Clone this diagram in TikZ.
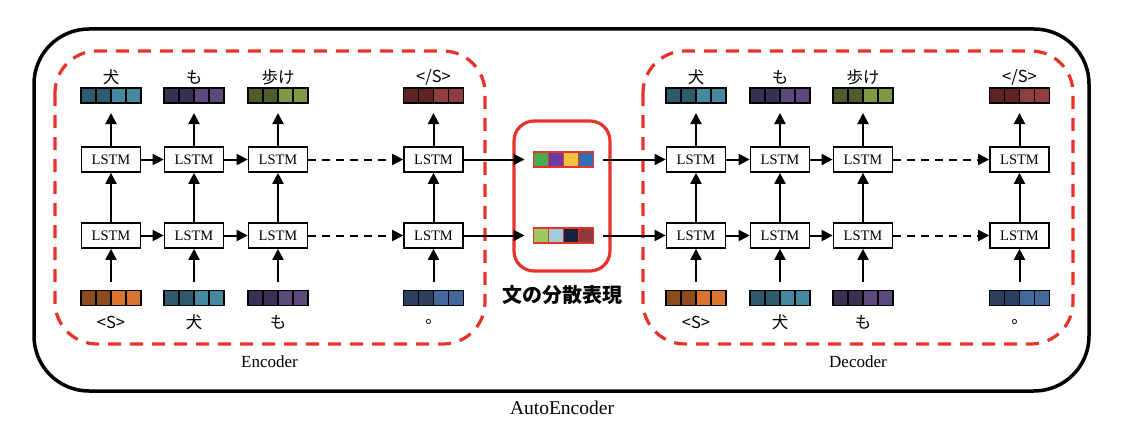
\documentclass[tikz,border=0pt]{standalone}
\usepackage{fontspec}
\setmainfont{Liberation Serif}
\newfontfamily\cjk{Noto Sans CJK JP}
\usetikzlibrary{arrows.meta}

\definecolor{redline}{HTML}{E8332A}
\definecolor{inuD}{HTML}{2E5B6C}
\definecolor{inuL}{HTML}{46889F}
\definecolor{moD}{HTML}{3B2F55}
\definecolor{moL}{HTML}{5C4A7C}
\definecolor{aruD}{HTML}{4D5E2A}
\definecolor{aruL}{HTML}{7F9946}
\definecolor{eosD}{HTML}{5E2424}
\definecolor{eosL}{HTML}{8E3E3E}
\definecolor{bosD}{HTML}{8C4A1F}
\definecolor{bosL}{HTML}{DB7430}
\definecolor{kuD}{HTML}{2C3F60}
\definecolor{kuL}{HTML}{43699C}
\definecolor{cgreen}{HTML}{4BA853}
\definecolor{cpurple}{HTML}{6B3A9E}
\definecolor{cyellow}{HTML}{F6BF3D}
\definecolor{cblue}{HTML}{2F6EB5}
\definecolor{clgreen}{HTML}{9DCA5E}
\definecolor{clblue}{HTML}{9FCCDA}
\definecolor{cnavy}{HTML}{17213E}
\definecolor{cbrown}{HTML}{8C3B3B}

% word vector: name, x, y, four cell colours, border colour
\newcommand{\wordvec}[8]{%
    \node[vec] (#1) at (#2,#3) {};
    \foreach \c [count=\i from 0] in {#4,#5,#6,#7}
        \filldraw[fill=\c, draw=#8, line width=1.5pt]
            ([xshift=\i*15pt]#1.north west) rectangle ++(15,15);
}

\begin{document}
\begin{tikzpicture}
        [x=1pt, y=-1pt,
        lstm/.style={draw, fill=white, line width=1.7pt, minimum width=59pt, minimum height=25pt,
            inner sep=0pt, font=\fontsize{14.5}{16}\selectfont},
        vec/.style={minimum width=60pt, minimum height=15pt, inner sep=0pt, outer sep=0pt},
        tok/.style={font=\cjk\fontsize{16.5}{18}\selectfont, inner sep=0pt},
        arr/.style={line width=2pt, -{Triangle[length=11pt, width=11pt]}},
        dots/.style={dash pattern=on 8pt off 6pt},
        redbox/.style={redline, line width=3.2pt},
        caption/.style={font=\fontsize{17}{19}\selectfont, inner sep=0pt}]

        \useasboundingbox (0,0) rectangle (1122,428);

        % --- Outer box and the three red frames ---
        \draw[line width=3.5pt, rounded corners=55pt] (34,29) rectangle (1089,391);
        \draw[redbox, dash pattern=on 13pt off 9pt, rounded corners=42pt] (55,51) rectangle (485,344);
        \draw[redbox, dash pattern=on 13pt off 9pt, rounded corners=42pt] (643,51) rectangle (1073,344);
        \draw[redbox, rounded corners=20pt] (514,121) rectangle (610,271);

        % --- Encoder ---
        \node[lstm] (eu1) at (111,159.5) {LSTM};
        \node[lstm] (eu2) at (194,159.5) {LSTM};
        \node[lstm] (eu3) at (278,159.5) {LSTM};
        \node[lstm] (eu4) at (433.5,159.5) {LSTM};
        \node[lstm] (el1) at (111,235.5) {LSTM};
        \node[lstm] (el2) at (194,235.5) {LSTM};
        \node[lstm] (el3) at (278,235.5) {LSTM};
        \node[lstm] (el4) at (433.5,235.5) {LSTM};

        \wordvec{eo1}{111}{95.5}{inuD}{inuD}{inuL}{inuL}{black}
        \wordvec{eo2}{194}{95.5}{moD}{moD}{moL}{moL}{black}
        \wordvec{eo3}{278}{95.5}{aruD}{aruD}{aruL}{aruL}{black}
        \wordvec{eo4}{433.5}{95.5}{eosD}{eosD}{eosL}{eosL}{black}
        \wordvec{ei1}{111}{298}{bosD}{bosD}{bosL}{bosL}{black}
        \wordvec{ei2}{194}{298}{inuD}{inuD}{inuL}{inuL}{black}
        \wordvec{ei3}{278}{298}{moD}{moD}{moL}{moL}{black}
        \wordvec{ei4}{433.5}{298}{kuD}{kuD}{kuL}{kuL}{black}

        \node[tok] (eot1) at (111,77) {犬};
        \node[tok] (eot2) at (194,77) {も};
        \node[tok] (eot3) at (278,77) {歩け};
        \node[tok] (eot4) at (433.5,77) {</S>};
        \node[tok] (eit1) at (111,322) {<S>};
        \node[tok] (eit2) at (194,322) {犬};
        \node[tok] (eit3) at (278,322) {も};
        \node[tok] (eit4) at (433.5,322) {。};

        % --- Decoder ---
        \node[lstm] (du1) at (696,159.5) {LSTM};
        \node[lstm] (du2) at (780,159.5) {LSTM};
        \node[lstm] (du3) at (863,159.5) {LSTM};
        \node[lstm] (du4) at (1019.5,159.5) {LSTM};
        \node[lstm] (dl1) at (696,235.5) {LSTM};
        \node[lstm] (dl2) at (780,235.5) {LSTM};
        \node[lstm] (dl3) at (863,235.5) {LSTM};
        \node[lstm] (dl4) at (1019.5,235.5) {LSTM};

        \wordvec{do1}{696}{95.5}{inuD}{inuD}{inuL}{inuL}{black}
        \wordvec{do2}{780}{95.5}{moD}{moD}{moL}{moL}{black}
        \wordvec{do3}{863}{95.5}{aruD}{aruD}{aruL}{aruL}{black}
        \wordvec{do4}{1019.5}{95.5}{eosD}{eosD}{eosL}{eosL}{black}
        \wordvec{di1}{696}{298}{bosD}{bosD}{bosL}{bosL}{black}
        \wordvec{di2}{780}{298}{inuD}{inuD}{inuL}{inuL}{black}
        \wordvec{di3}{863}{298}{moD}{moD}{moL}{moL}{black}
        \wordvec{di4}{1019.5}{298}{kuD}{kuD}{kuL}{kuL}{black}

        \node[tok] (dot1) at (696,77) {犬};
        \node[tok] (dot2) at (780,77) {も};
        \node[tok] (dot3) at (863,77) {歩け};
        \node[tok] (dot4) at (1019.5,77) {</S>};
        \node[tok] (dit1) at (696,322) {<S>};
        \node[tok] (dit2) at (780,322) {犬};
        \node[tok] (dit3) at (863,322) {も};
        \node[tok] (dit4) at (1019.5,322) {。};

        % --- Sentence vectors in the middle ---
        \wordvec{zu}{563.5}{159.5}{cgreen}{cpurple}{cyellow}{cblue}{redline}
        \wordvec{zl}{563.5}{235.5}{clgreen}{clblue}{cnavy}{cbrown}{redline}
        \node[font=\cjk\bfseries\fontsize{20}{22}\selectfont, inner sep=0pt] (zlab) at (562,295) {文の分散表現};

        % --- Vertical arrows ---
        \foreach \p in {e,d} {
            \foreach \i in {1,...,4} {
                \draw[arr] (\p l\i) -- (\p u\i);
                \draw[arr, shorten >=10pt] (\p u\i) -- (\p o\i);
                \draw[arr, shorten <=9pt] (\p i\i) -- (\p l\i);
            }
            \foreach \r in {u,l} {
                \draw[arr] (\p\r1) -- (\p\r2);
                \draw[arr] (\p\r2) -- (\p\r3);
                \draw[arr, dots] (\p\r3) -- (\p\r4);
            }
        }

        % --- Encoder -> sentence vector -> decoder ---
        \draw[arr, shorten >=9pt] (eu4) -- (zu);
        \draw[arr, shorten >=9pt] (el4) -- (zl);
        \draw[arr, shorten <=9pt] (zu) -- (du1);
        \draw[arr, shorten <=9pt] (zl) -- (dl1);

        % --- Captions ---
        \node[caption] (enc) at (269.5,362) {Encoder};
        \node[caption] (dec) at (858,362) {Decoder};
        \node[caption, font=\fontsize{19.5}{22}\selectfont] (ae) at (562,408) {AutoEncoder};
    \end{tikzpicture}
\end{document}
